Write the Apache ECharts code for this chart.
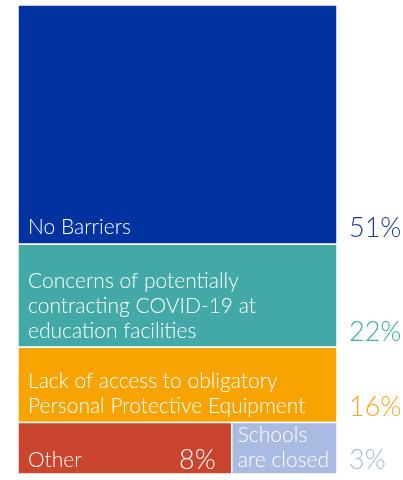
<!DOCTYPE html>
<html>
<head>
<meta charset="utf-8">
<script src="https://cdn.jsdelivr.net/npm/echarts@6/dist/echarts.min.js"></script>
<style>html,body{margin:0;padding:0;background:#fff;}#c{width:403px;height:480px;}</style>
</head>
<body>
<div id="c"></div>
<script>
// ---- data ----
const categories = [
  'No Barriers',
  'Concerns of potentially\ncontracting COVID-19 at\neducation facilities',
  'Lack of access to obligatory\nPersonal Protective Equipment',
  'Other',
  'Schools\nare closed'
];
const values = [51, 22, 16, 8, 3];
const rowOf = [0, 1, 2, 3, 3];
const percentLabels = ['51%', '22%', '16%', '8%', '3%'];
const cellColors = ['#0033A0', '#42A9A6', '#F7A400', '#C9452E', '#AABAE0'];
const pctColors = ['#1A3A9C', '#43A9A6', '#F6A623', '#FFFFFF', '#AAB9E0'];

// ---- layout rule: rows stacked by value, cells in a row share width ----
const minCellShare = 0.33;
const FONT = 'Lato, "Open Sans", sans-serif';
const rowTotals = [];
rowOf.forEach((r, i) => { rowTotals[r] = (rowTotals[r] || 0) + values[i]; });
const rowStart = [];
let acc = 0;
rowTotals.forEach((t, r) => { rowStart[r] = acc; acc += t; });
const cells = [];
const rowCursor = {};
values.forEach((v, i) => {
  const r = rowOf[i];
  const membersCount = rowOf.filter(x => x === r).length;
  let share = v / rowTotals[r];
  if (membersCount > 1) {
    const others = rowOf.map((x, j) => x === r && j !== i ? values[j] / rowTotals[r] : null).filter(x => x !== null);
    if (share < minCellShare) share = minCellShare;
    else if (others.some(o => o < minCellShare)) share = 1 - others.reduce((s, o) => s + Math.max(o, minCellShare), 0);
  }
  const x0 = rowCursor[r] || 0;
  rowCursor[r] = x0 + share;
  cells.push([x0, x0 + share, rowStart[r], rowStart[r] + rowTotals[r], i]);
});

const chart = echarts.init(document.getElementById('c'), null, { renderer: 'canvas' });
chart.setOption({
  animation: false,
  grid: { left: 18, right: 66, top: 5, bottom: 6 },
  xAxis: { type: 'value', min: 0, max: 1, show: false },
  yAxis: { type: 'value', min: 0, max: 100, inverse: true, show: false },
  series: [{
    type: 'custom',
    clip: false,
    data: cells,
    renderItem: function (params, api) {
      const i = api.value(4);
      const p0 = api.coord([api.value(0), api.value(2)]);
      const p1 = api.coord([api.value(1), api.value(3)]);
      const x = p0[0], y = p0[1], w = p1[0] - p0[0], h = p1[1] - p0[1];
      const lastInRow = rowOf.lastIndexOf(rowOf[i]) === i;
      const multi = rowOf.filter(x => x === rowOf[i]).length > 1;
      const isSmall = multi && i !== rowOf.indexOf(rowOf[i]);
      const children = [{
        type: 'rect',
        shape: { x: x, y: y, width: w, height: h },
        style: { fill: cellColors[i], stroke: '#fff', lineWidth: 1.5 }
      }, {
        type: 'text',
        style: {
          text: categories[i],
          x: x + (isSmall ? 6 : 10),
          y: y + h - (multi ? 1 : 4),
          fill: '#fff',
          font: '300 21px ' + FONT,
          lineHeight: 25,
          textAlign: 'left',
          textVerticalAlign: 'bottom'
        }
      }];
      const inside = !lastInRow;
      children.push({
        type: 'text',
        style: {
          text: percentLabels[i],
          x: inside ? x + w - 16 : p1[0] + 12,
          y: y + h - (multi ? 0 : 2),
          fill: pctColors[i],
          font: '300 27px ' + FONT,
          textAlign: inside ? 'right' : 'left',
          textVerticalAlign: 'bottom'
        }
      });
      return { type: 'group', children: children };
    }
  }]
});
</script>
</body>
</html>
